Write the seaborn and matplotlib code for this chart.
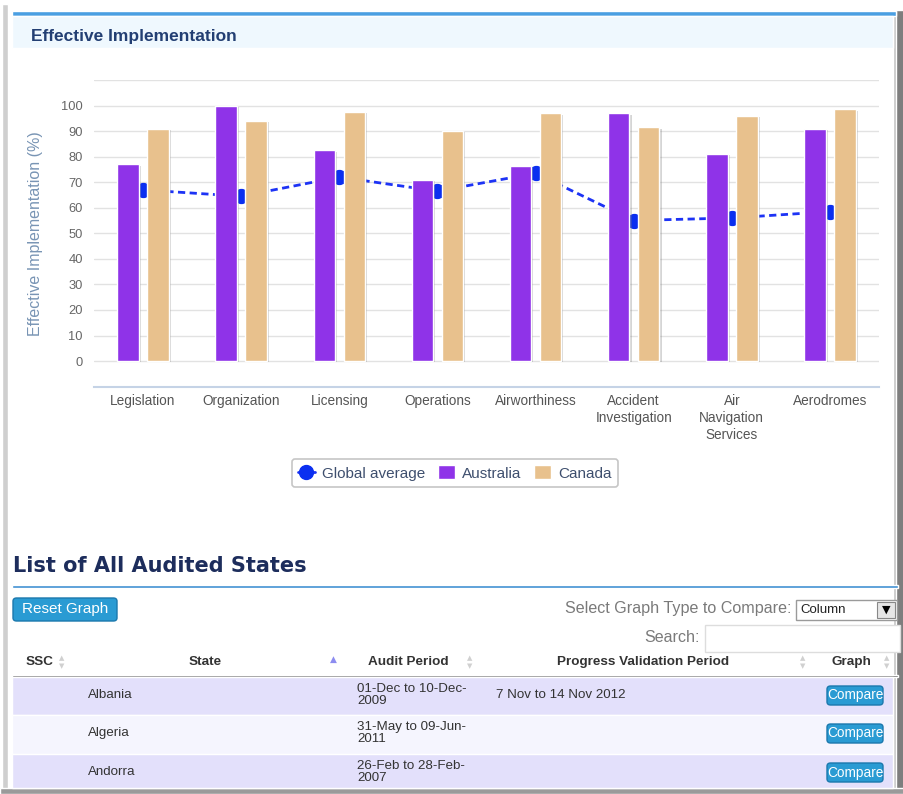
import numpy as np
import pandas as pd
import matplotlib
matplotlib.use('Agg')
import matplotlib.pyplot as plt
import matplotlib.patheffects as pe
from matplotlib.patches import Rectangle, FancyBboxPatch, Patch
from matplotlib.lines import Line2D
import seaborn as sns

# chart values
categories = ['Legislation', 'Organization', 'Licensing', 'Operations', 'Airworthiness',
              'Accident\nInvestigation', 'Air\nNavigation\nServices', 'Aerodromes']
australia = [77, 100, 82.5, 71, 76.5, 97, 81, 91]
canada = [91, 94, 97.5, 90, 97, 91.5, 96, 98.5]
global_avg = [67, 64.5, 72, 66.5, 73.5, 55, 56, 58.5]
y_ticks = list(range(0, 111, 10))
y_tick_labels = [str(v) for v in range(0, 101, 10)] + ['']

# table rows under the chart
table_states = ['Albania', 'Algeria', 'Andorra']
table_audit = ['01-Dec to 10-Dec-\n2009', '31-May to 09-Jun-\n2011', '26-Feb to 28-Feb-\n2007']
table_validation = ['7 Nov to 14 Nov 2012', '', '']

PURPLE = '#8f33e8'
TAN = '#e8c18d'
LINE_BLUE = '#1d33f5'

W, H = 904, 794


def fx(x):
    return x / W


def fy(y):
    return 1 - y / H


def rect(x0, y0, x1, y1, **kw):
    fig.patches.append(Rectangle((fx(x0), fy(y1)), fx(x1) - fx(x0), fy(y0) - fy(y1),
                                 transform=fig.transFigure, **kw))


def button(x0, y0, x1, y1, label, size):
    fig.patches.append(FancyBboxPatch((fx(x0), fy(y1)), fx(x1) - fx(x0), fy(y0) - fy(y1),
                                      boxstyle='round,pad=0,rounding_size=0.004',
                                      transform=fig.transFigure, facecolor='#2a9bd3',
                                      edgecolor='#1b78ad', linewidth=1))
    fig.text(fx((x0 + x1) / 2), fy((y0 + y1) / 2), label, ha='center', va='center',
             color='white', fontsize=size)


def sort_arrows(x, y):
    fig.text(fx(x), fy(y - 4), '▲', ha='center', va='center', fontsize=5, color='#d0d0d0',
             family='DejaVu Sans')
    fig.text(fx(x), fy(y + 4), '▼', ha='center', va='center', fontsize=5, color='#d0d0d0',
             family='DejaVu Sans')


sns.set_style('white')
plt.rcParams['font.family'] = ['Liberation Sans', 'DejaVu Sans']

fig = plt.figure(figsize=(9.04, 7.94), dpi=100)

# page frame and header band
rect(0, 0, 904, 794, facecolor='white', zorder=-5)
rect(2, 4, 8, 792, facecolor='#cfcfcf')
rect(893, 10, 904, 794, facecolor='#7e7e7e')
rect(893, 10, 896, 794, facecolor='#c4c4c4')
rect(0, 788, 904, 794, facecolor='#9a9a9a')
rect(12, 11, 896, 16, facecolor='#4a9fe2')
rect(12, 16, 893, 48, facecolor='#eff8fe')
fig.text(fx(31), fy(37), 'Effective Implementation', fontsize=12.5, fontweight='bold',
         color='#233f73', va='center')

# chart
ax = fig.add_axes([fx(94), fy(386.6), (879 - 94) / W, (386.6 - 80) / H])
df = pd.DataFrame({
    'Area': categories * 2,
    'Country': ['Australia'] * len(categories) + ['Canada'] * len(categories),
    'EI': australia + canada,
})
sns.barplot(data=df, x='Area', y='EI', hue='Country',
            palette={'Australia': PURPLE, 'Canada': TAN}, saturation=1,
            width=0.61, gap=0.28, legend=False, ax=ax, zorder=3)
for p in ax.patches:
    p.set_path_effects([pe.SimplePatchShadow(offset=(1.5, -1), shadow_rgbFace='#777777', alpha=0.3),
                        pe.Normal()])

ax.plot(np.arange(len(categories)), global_avg, color=LINE_BLUE, lw=2, ls=(0, (2.6, 1.6)),
        marker='o', ms=10, mfc='#0b2ff0', mec='#0b2ff0', zorder=2)

ax.set_xlim(-0.5, len(categories) - 0.5)
ax.set_ylim(-10, 110)
ax.set_yticks(y_ticks)
ax.set_yticklabels(y_tick_labels)
ax.yaxis.grid(True, color='#e2e2e2', lw=1)
ax.set_axisbelow(True)
for side in ['left', 'top', 'right']:
    ax.spines[side].set_visible(False)
ax.spines['bottom'].set_color('#c5d3e6')
ax.spines['bottom'].set_linewidth(1.5)
ax.tick_params(axis='y', length=0, pad=8, labelsize=9.3, labelcolor='#666666')
ax.tick_params(axis='x', which='major', length=0, pad=5.5, labelsize=9.8, labelcolor='#555555')
ax.set_xticks(np.arange(0.5, len(categories) - 0.5, 1), minor=True)
ax.tick_params(axis='x', which='minor', length=5, width=1.2, color='#c5d3e6', direction='out')
for t in ax.get_xticklabels():
    t.set_linespacing(1.25)
ax.set_xlabel('')
ax.set_ylabel('Effective Implementation (%)', fontsize=11.5, color='#7894b4')
ax.yaxis.set_label_coords(-0.065, 0.5)

handles = [
    Line2D([], [], color=LINE_BLUE, lw=2, marker='o', ms=10, mfc='#0b2ff0', mec='#0b2ff0'),
    Patch(facecolor=PURPLE),
    Patch(facecolor=TAN),
]
leg = fig.legend(handles, ['Global average', 'Australia', 'Canada'], loc='center',
                 bbox_to_anchor=(fx(455), fy(473)), ncol=3, frameon=True, fancybox=True,
                 edgecolor='#b8b8b8', fontsize=11, labelcolor='#3e4f6e', handlelength=1.1,
                 handleheight=1.0, handletextpad=0.5, columnspacing=0.8, borderpad=0.4)
leg.get_frame().set_linewidth(1.2)

# list section
fig.text(fx(13), fy(566), 'List of All Audited States', fontsize=15, fontweight='bold',
         color='#1d2d5c', va='center', family='DejaVu Sans')
rect(12, 584.5, 898, 587.5, facecolor='#3d8fd1')
button(13, 598, 117, 621, 'Reset Graph', 11)

fig.text(fx(792), fy(609), 'Select Graph Type to Compare:', fontsize=11.6, color='#7a7a7a',
         ha='right', va='center')
rect(796, 600, 897, 620, facecolor='white', edgecolor='#9a9a9a', lw=1)
fig.text(fx(800), fy(610), 'Column', fontsize=9.5, color='#222222', va='center')
rect(877, 602, 895, 618, facecolor='#e6e6e6', edgecolor='#888888', lw=0.8)
fig.text(fx(886), fy(610), '▼', fontsize=8, color='black', ha='center', va='center',
         family='DejaVu Sans')
fig.text(fx(700), fy(637), 'Search:', fontsize=11.6, color='#7a7a7a', ha='right', va='center')
rect(705, 625, 900, 652, facecolor='white', edgecolor='#dddddd', lw=1)

hy = 662
fig.text(fx(26), fy(hy), 'SSC', fontsize=9.7, fontweight='bold', color='#333333', va='center')
sort_arrows(62, hy)
fig.text(fx(205), fy(hy), 'State', fontsize=9.7, fontweight='bold', color='#333333',
         ha='center', va='center')
fig.text(fx(333), fy(hy - 3), '▲', fontsize=6.5, color='#8c8cf0', ha='center', va='center',
         family='DejaVu Sans')
fig.text(fx(408), fy(hy), 'Audit Period', fontsize=9.7, fontweight='bold', color='#333333',
         ha='center', va='center')
sort_arrows(470, hy)
fig.text(fx(643), fy(hy), 'Progress Validation Period', fontsize=9.7, fontweight='bold',
         color='#333333', ha='center', va='center')
sort_arrows(803, hy)
fig.text(fx(851), fy(hy), 'Graph', fontsize=9.7, fontweight='bold', color='#333333',
         ha='center', va='center')
sort_arrows(887, hy)
rect(12, 675, 898, 677, facecolor='#555555')

row_top = [677, 715, 754]
row_bottom = [715, 754, 788]
row_fill = ['#e3e0fb', '#f5f5fe', '#e3e0fb']
for i, state in enumerate(table_states):
    y0, y1 = row_top[i], row_bottom[i]
    yc = y0 + 18
    rect(12, y0, 893, y1, facecolor=row_fill[i])
    fig.text(fx(88), fy(yc), state, fontsize=9.6, color='#333333', va='center')
    fig.text(fx(357), fy(yc), table_audit[i], fontsize=9.6, color='#333333', va='center',
             linespacing=1.0)
    if table_validation[i]:
        fig.text(fx(496), fy(yc), table_validation[i], fontsize=9.6, color='#333333', va='center')
    button(827, yc - 9, 883, yc + 10, 'Compare', 9.8)

fig.savefig('out.png', dpi=100)
